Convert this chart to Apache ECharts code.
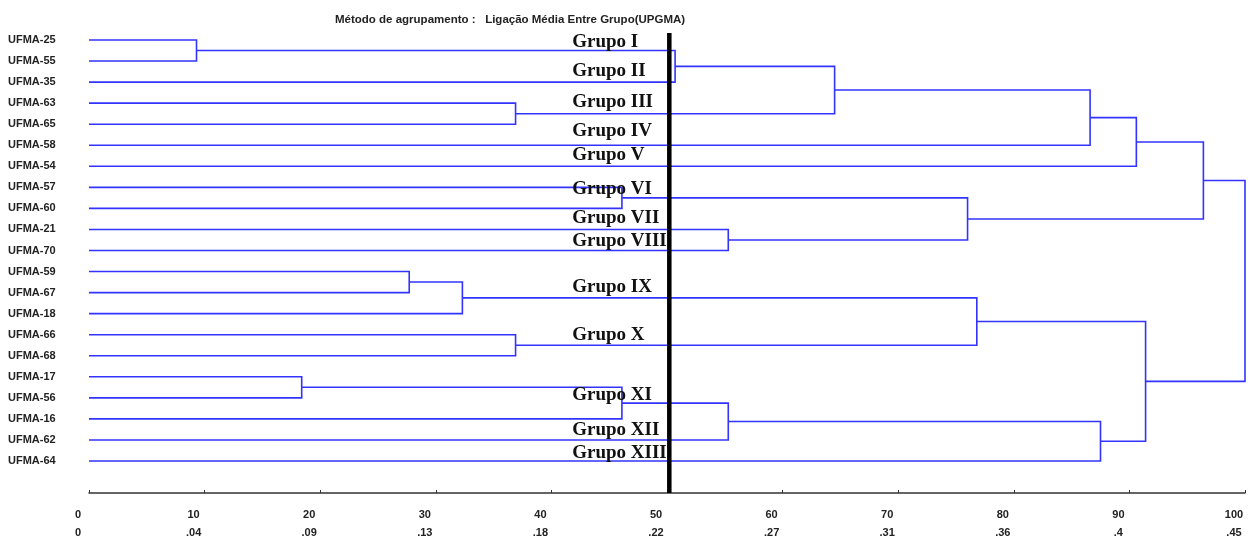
<!DOCTYPE html>
<html><head><meta charset="utf-8">
<script src="https://cdn.jsdelivr.net/npm/echarts@6/dist/echarts.min.js"></script>
<style>html,body{margin:0;padding:0;background:#fff}#c{width:1251px;height:540px}</style>
</head><body><div id="c"></div><script>
// ---- data ----
const leaves = ['UFMA-25','UFMA-55','UFMA-35','UFMA-63','UFMA-65','UFMA-58','UFMA-54','UFMA-57','UFMA-60','UFMA-21','UFMA-70','UFMA-59','UFMA-67','UFMA-18','UFMA-66','UFMA-68','UFMA-17','UFMA-56','UFMA-16','UFMA-62','UFMA-64'];
// linkage: node ids 0..20 are leaves, 21.. are merges in this order
const mergeA = [0,21,3,22,24,25,7,9,27,26,11,31,14,32,16,35,36,37,34,30];
const mergeB = [1,2,4,23,5,6,8,10,28,29,12,13,15,33,17,18,19,20,38,39];
const mergeHeight = [9.3,50.7,36.9,64.5,86.6,90.6,46.1,55.3,76.0,96.4,27.7,32.3,36.9,76.8,18.4,46.1,55.3,87.5,91.4,100];
const similarityLabels = ['0','.04','.09','.13','.18','.22','.27','.31','.36','.4','.45'];
const groupNames = ['Grupo I','Grupo II','Grupo III','Grupo IV','Grupo V','Grupo VI','Grupo VII','Grupo VIII','Grupo IX','Grupo X','Grupo XI','Grupo XII','Grupo XIII'];
const groupRows = [0.1,1.47,2.95,4.32,5.46,7.08,8.46,9.55,11.73,14.01,16.86,18.53,19.62];
const groupLevel = 41.8;
const cutLevel = 50.2;
const titleText = 'Método de agrupamento :   Ligação Média Entre Grupo(UPGMA)';

// ---- build dendrogram segments ----
const pos = leaves.map((_, i) => i);
const hgt = leaves.map(() => 0);
const segs = [];
mergeHeight.forEach((h, k) => {
  const a = mergeA[k], b = mergeB[k];
  segs.push([h, hgt[a], pos[a], hgt[b], pos[b]]);
  pos.push((pos[a] + pos[b]) / 2);
  hgt.push(h);
});

const sans = '"Liberation Sans",Arial,sans-serif';
const chart = echarts.init(document.getElementById('c'), null, {renderer: 'canvas'});
chart.setOption({
  animation: false,
  backgroundColor: '#fff',
  title: {text: titleText, left: 330, top: 9,
    textStyle: {fontSize: 11.5, fontWeight: 'bold', fontFamily: sans, color: '#222'}},
  grid: {left: 89, right: 6, top: 29.5, height: 442, outerBoundsMode: 'none', containLabel: false},
  xAxis: {type: 'value', min: 0, max: 100, interval: 10, offset: 21.5,
    axisLine: {onZero: false, lineStyle: {color: '#333', width: 1.5}},
    axisTick: {inside: true, length: 3, lineStyle: {color: '#333'}},
    splitLine: {show: false},
    axisLabel: {margin: 13, lineHeight: 18, fontSize: 11, fontWeight: 'bold', fontFamily: sans,
      color: '#222', align: 'center', padding: [0, 22, 0, 0],
      formatter: v => v + '\n' + similarityLabels[Math.round(v / 10)]}},
  yAxis: [
    {type: 'category', data: leaves, inverse: true,
      axisLine: {show: false}, axisTick: {show: false}, splitLine: {show: false},
      axisLabel: {align: 'left', margin: 81, fontSize: 11, fontWeight: 'bold', fontFamily: sans, color: '#222'}},
    {type: 'value', inverse: true, min: -0.5, max: 20.5, show: false}
  ],
  series: [
    {type: 'custom', xAxisIndex: 0, yAxisIndex: 1, data: segs,
      encode: {x: [0, 1, 3], y: [2, 4]}, silent: true,
      renderItem(params, api) {
        const h = api.value(0), ha = api.value(1), ya = api.value(2), hb = api.value(3), yb = api.value(4);
        return {type: 'polyline',
          shape: {points: [api.coord([ha, ya]), api.coord([h, ya]), api.coord([h, yb]), api.coord([hb, yb])]},
          style: {stroke: '#3333ff', lineWidth: 1.6, fill: null}};
      }},
    {type: 'custom', xAxisIndex: 0, yAxisIndex: 1, z: 3, silent: true,
      data: groupRows.map((r, i) => [groupLevel, r, i]),
      renderItem(params, api) {
        const p = api.coord([api.value(0), api.value(1)]);
        return {type: 'text', x: p[0], y: p[1],
          style: {text: groupNames[api.value(2)], font: 'bold 19px "Liberation Serif","Times New Roman",serif',
            fill: '#111', verticalAlign: 'middle', align: 'left'}};
      }},
    {type: 'custom', xAxisIndex: 0, yAxisIndex: 1, z: 4, silent: true,
      data: [[cutLevel]],
      renderItem(params, api) {
        const top = api.coord([api.value(0), -0.33]);
        const bot = api.coord([api.value(0), 21.52]);
        return {type: 'line', shape: {x1: top[0], y1: top[1], x2: bot[0], y2: bot[1]},
          style: {stroke: '#000', lineWidth: 4.5}};
      }}
  ]
});
</script></body></html>
